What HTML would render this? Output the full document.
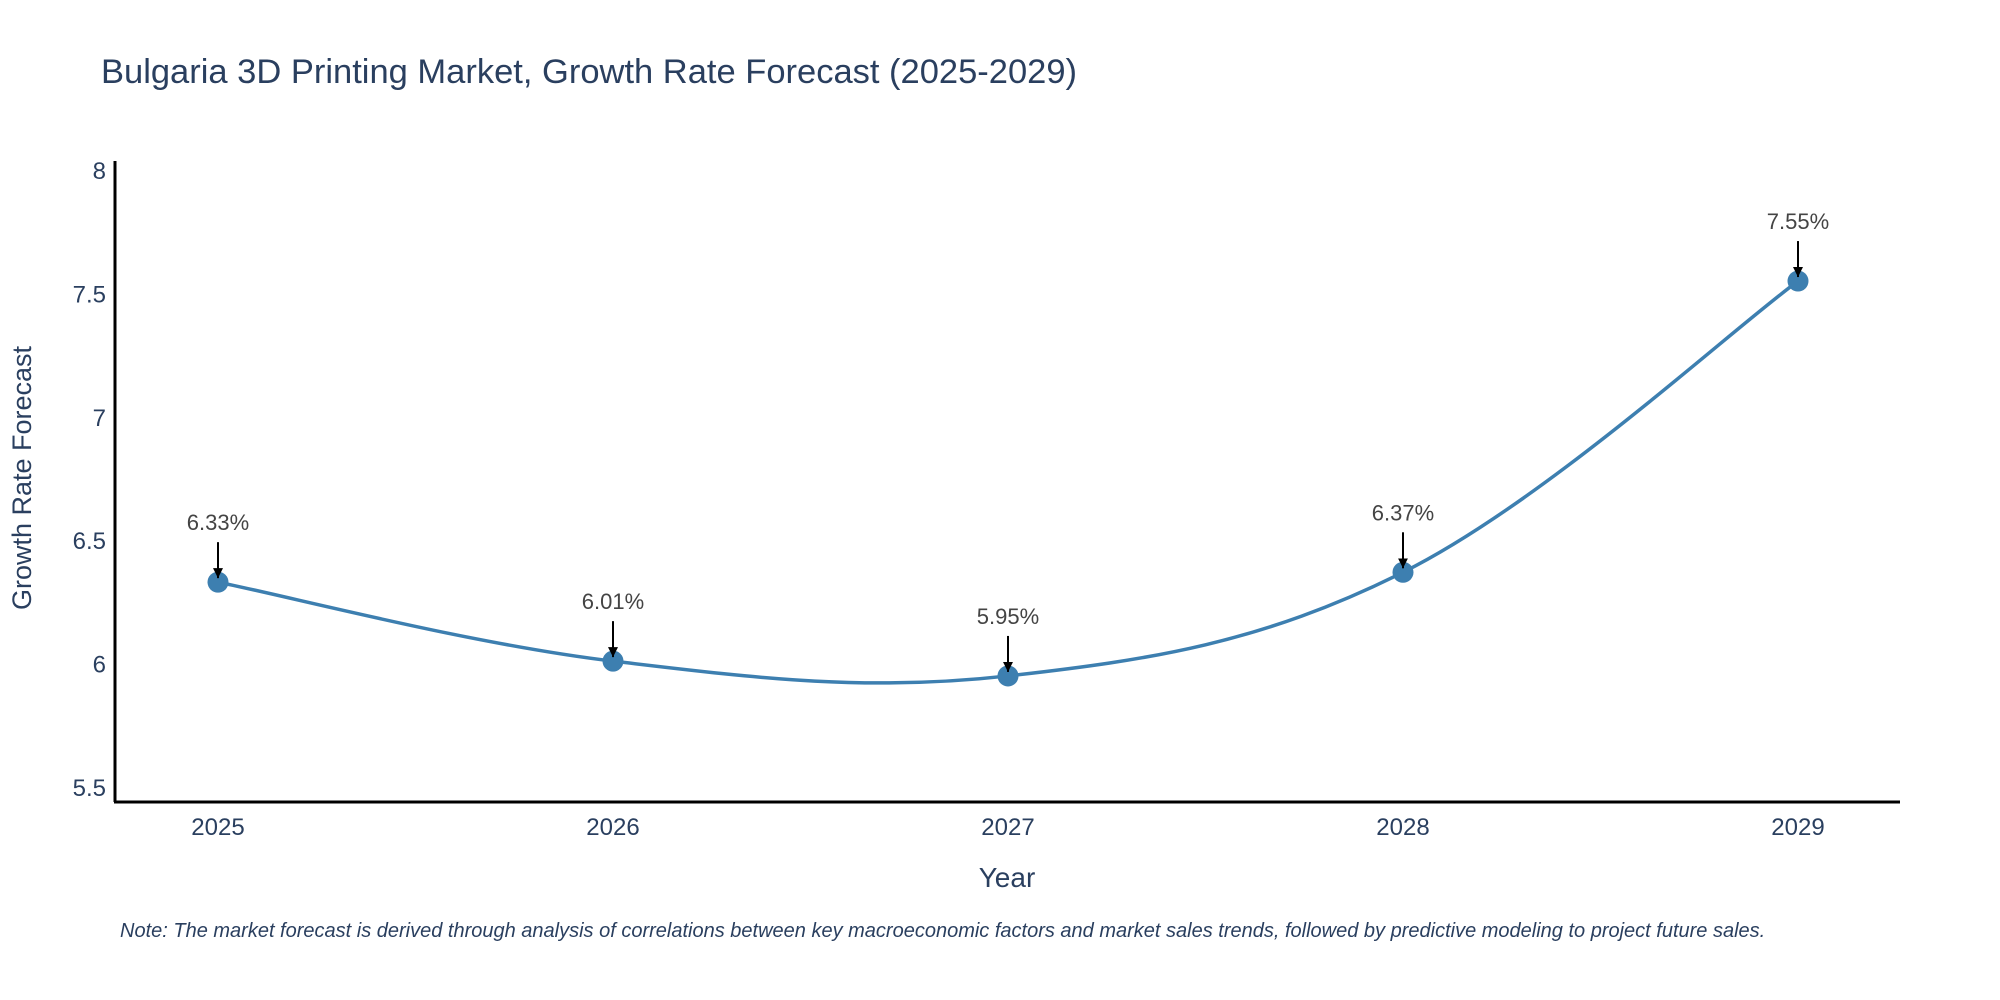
<!DOCTYPE html>
<html><head><meta charset="utf-8">
<style>
html,body{margin:0;padding:0;background:#fff;}
svg{display:block;font-family:"Liberation Sans",sans-serif;}
</style></head>
<body>
<svg id="chart" width="2000" height="1000" viewBox="0 0 2000 1000">
<defs>
<marker id="ah" viewBox="0 0 10 10" refX="10" refY="5" markerWidth="5" markerHeight="5" orient="auto">
<path d="M0,0 L10,5 L0,10 Z" fill="#000"/>
</marker>
</defs>
<text x="101" y="83" font-size="34.5" fill="#2a3f5f">Bulgaria 3D Printing Market, Growth Rate Forecast (2025-2029)</text>
<g id="yticks"></g>
<g id="xticks"></g>
<line x1="115" y1="161" x2="115" y2="802" stroke="#000" stroke-width="3"/>
<line x1="114" y1="802" x2="1900" y2="802" stroke="#000" stroke-width="3"/>
<path id="line" fill="none" stroke="#3d7fb0" stroke-width="3.5"/>
<g id="points"></g>
<g id="annots"></g>
<text x="31" y="478" font-size="27" fill="#2a3f5f" text-anchor="middle" transform="rotate(-90 31 478)">Growth Rate Forecast</text>
<text x="1007" y="887" font-size="28" fill="#2a3f5f" text-anchor="middle">Year</text>
<text x="120" y="937" font-size="20" font-style="italic" fill="#2a3f5f">Note: The market forecast is derived through analysis of correlations between key macroeconomic factors and market sales trends, followed by predictive modeling to project future sales.</text>
</svg>
<script>
const years = [2025, 2026, 2027, 2028, 2029];
const rates = [6.33, 6.01, 5.95, 6.37, 7.55];
const labels = ["6.33%", "6.01%", "5.95%", "6.37%", "7.55%"];
const yTicks = [5.5, 6, 6.5, 7, 7.5, 8];
const yTickLabels = ["5.5", "6", "6.5", "7", "7.5", "8"];

const NS = "http://www.w3.org/2000/svg";
function xS(v){ return 218 + (v - 2025) * 395; }
function yS(v){ return 787 - (v - 5.5) * 246.8; }
function mk(tag, attrs, parent){ const e=document.createElementNS(NS,tag); for(const k in attrs) e.setAttribute(k,attrs[k]); parent.appendChild(e); return e; }

const yt = document.getElementById('yticks');
yTicks.forEach((v,i)=>{
  const t = mk('text',{x:106,y:yS(v)+9,'font-size':24,fill:'#2a3f5f','text-anchor':'end'},yt);
  t.textContent = yTickLabels[i];
  
  
});
const xt = document.getElementById('xticks');
years.forEach(v=>{
  const t = mk('text',{x:xS(v),y:835,'font-size':24,fill:'#2a3f5f','text-anchor':'middle'},xt);
  t.textContent = String(v);
  
  
});

const pts = years.map((y,i)=>[xS(y), yS(rates[i])]);
let d = `M${pts[0][0]},${pts[0][1]}`;
const s = 0.18;
for(let i=0;i<pts.length-1;i++){
  const p0 = pts[i-1]||pts[i], p1=pts[i], p2=pts[i+1], p3=pts[i+2]||pts[i+1];
  const c1=[p1[0]+(p2[0]-p0[0])*s, p1[1]+(p2[1]-p0[1])*s];
  const c2=[p2[0]-(p3[0]-p1[0])*s, p2[1]-(p3[1]-p1[1])*s];
  d += ` C${c1[0]},${c1[1]} ${c2[0]},${c2[1]} ${p2[0]},${p2[1]}`;
}
document.getElementById('line').setAttribute('d', d);

const pg = document.getElementById('points');
const ag = document.getElementById('annots');
pts.forEach((p,i)=>{
  const c = mk('circle',{cx:p[0],cy:p[1],r:10.5,fill:'#3d7fb0'},pg);
  
  
  const a = mk('line',{x1:p[0],y1:p[1]-40,x2:p[0],y2:p[1]-4,stroke:'#000','stroke-width':2,'marker-end':'url(#ah)'},ag);
  
  
  const t = mk('text',{x:p[0],y:p[1]-52,'font-size':22,fill:'#444','text-anchor':'middle'},ag);
  t.textContent = labels[i];
  
  
});
</script>
</body></html>
